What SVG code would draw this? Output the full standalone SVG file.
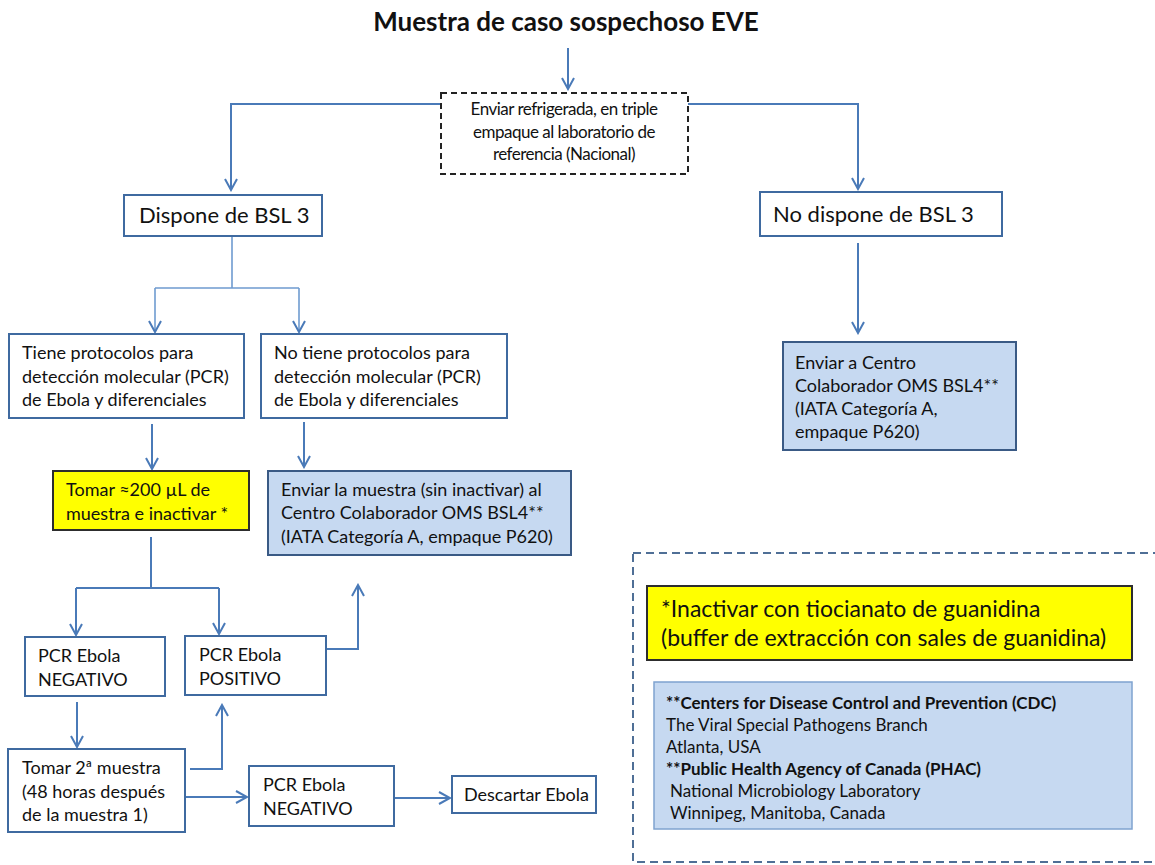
<svg xmlns="http://www.w3.org/2000/svg" width="1155" height="865" viewBox="0 0 1155 865">
<style>
text{font-family:Lato,"Liberation Sans",sans-serif;fill:#111}
.t{font-size:18px}
.box{fill:#fff;stroke:#3f6aa0;stroke-width:2}
.blue{fill:#c6d9f1;stroke:#3a5a85;stroke-width:2}
.yel{fill:#ffff00;stroke:#2d2d2d;stroke-width:2}
.ln{fill:none;stroke:#4a7ab8;stroke-width:2}
.lt{fill:none;stroke:#6f9bd0;stroke-width:1.6}
</style>
<defs>
<marker id="ah" viewBox="0 0 14 14" refX="12" refY="7" markerWidth="14" markerHeight="14" markerUnits="userSpaceOnUse" orient="auto">
<path d="M1,1 L12,7 L1,13" fill="none" stroke="#4a7ab8" stroke-width="2"/>
</marker>
</defs>
<text x="566" y="31" text-anchor="middle" font-size="26" font-weight="bold">Muestra de caso sospechoso EVE</text>
<g id="connectors">
<path class="ln" d="M568,48 V89" marker-end="url(#ah)"/>
<path class="ln" d="M441,104 H231 V190" marker-end="url(#ah)"/>
<path class="ln" d="M688,104 H858 V189" marker-end="url(#ah)"/>
<path class="lt" d="M232,237 V288 M155,288 H299"/>
<path class="lt" d="M155,288 V332" marker-end="url(#ah)"/>
<path class="lt" d="M299,288 V332" marker-end="url(#ah)"/>
<path class="ln" d="M152,424 V469" marker-end="url(#ah)"/>
<path class="ln" d="M304,422 V467" marker-end="url(#ah)"/>
<path class="ln" d="M151,537 V588 M76,588 H219"/>
<path class="ln" d="M76,588 V635" marker-end="url(#ah)"/>
<path class="ln" d="M219,588 V634" marker-end="url(#ah)"/>
<path class="ln" d="M326,649 H358 V585" marker-end="url(#ah)"/>
<path class="ln" d="M77,702 V747" marker-end="url(#ah)"/>
<path class="ln" d="M190,769 H222 V705" marker-end="url(#ah)"/>
<path class="ln" d="M185,797 H247" marker-end="url(#ah)"/>
<path class="ln" d="M394,798 H450" marker-end="url(#ah)"/>
<path class="ln" d="M858,243 V333" marker-end="url(#ah)"/>
</g>
<g id="envio">
<rect x="441" y="93" width="247" height="81" fill="#fff" stroke="#222" stroke-width="2" stroke-dasharray="6,4"/>
<text font-size="17" text-anchor="middle" letter-spacing="-0.5"><tspan x="564" y="115">Enviar refrigerada, en triple</tspan><tspan x="564" y="138">empaque al laboratorio de</tspan><tspan x="564" y="160">referencia (Nacional)</tspan></text>
</g>
<g id="dispone">
<rect class="box" x="124" y="195" width="198" height="41"/>
<text x="139" y="223" font-size="22">Dispone de BSL 3</text>
</g>
<g id="nodispone">
<rect class="box" x="760" y="192" width="242" height="44"/>
<text x="773" y="222" font-size="22">No dispone de BSL 3</text>
</g>
<g id="tiene">
<rect class="box" x="9" y="334" width="235" height="84"/>
<text class="t"><tspan x="22" y="359">Tiene protocolos para</tspan><tspan x="22" y="383">detección molecular (PCR)</tspan><tspan x="22" y="406">de Ebola y diferenciales</tspan></text>
</g>
<g id="notiene">
<rect class="box" x="261" y="334" width="246" height="84"/>
<text class="t"><tspan x="274" y="359">No tiene protocolos para</tspan><tspan x="274" y="383">detección molecular (PCR)</tspan><tspan x="274" y="406">de Ebola y diferenciales</tspan></text>
</g>
<g id="tomar">
<rect class="yel" x="53" y="471" width="196" height="59"/>
<text class="t"><tspan x="66" y="496">Tomar ≈200 µL de</tspan><tspan x="66" y="520">muestra e inactivar *</tspan></text>
</g>
<g id="enviarmuestra">
<rect class="blue" x="268" y="471" width="303" height="84"/>
<text class="t"><tspan x="281" y="496">Enviar la muestra (sin inactivar) al</tspan><tspan x="281" y="519">Centro Colaborador OMS  BSL4**</tspan><tspan x="281" y="543">(IATA Categoría A, empaque P620)</tspan></text>
</g>
<g id="enviarcentro">
<rect class="blue" x="783" y="342" width="233" height="108"/>
<text class="t"><tspan x="795" y="369">Enviar a Centro</tspan><tspan x="795" y="392">Colaborador OMS BSL4**</tspan><tspan x="795" y="415">(IATA Categoría A,</tspan><tspan x="795" y="438">empaque P620)</tspan></text>
</g>
<g id="neg1">
<rect class="box" x="25" y="637" width="140" height="59"/>
<text class="t"><tspan x="38" y="662">PCR Ebola</tspan><tspan x="38" y="686">NEGATIVO</tspan></text>
</g>
<g id="pos">
<rect class="box" x="185" y="636" width="141" height="59"/>
<text class="t"><tspan x="199" y="661">PCR Ebola</tspan><tspan x="199" y="685">POSITIVO</tspan></text>
</g>
<g id="tomar2">
<rect class="box" x="8" y="749" width="177" height="83"/>
<text class="t"><tspan x="22" y="774">Tomar 2ª muestra</tspan><tspan x="22" y="798">(48 horas después</tspan><tspan x="22" y="821">de la muestra 1)</tspan></text>
</g>
<g id="neg2">
<rect class="box" x="249" y="766" width="145" height="60"/>
<text class="t"><tspan x="263" y="791">PCR Ebola</tspan><tspan x="263" y="815">NEGATIVO</tspan></text>
</g>
<g id="descartar">
<rect class="box" x="452" y="776" width="144" height="37"/>
<text class="t" x="464" y="801">Descartar Ebola</text>
</g>
<g id="notas">
<rect x="633" y="553" width="560" height="309" fill="none" stroke="#4f6f96" stroke-width="2" stroke-dasharray="8,5"/>
<rect class="yel" x="647" y="586" width="485" height="74"/>
<text font-size="23"><tspan x="661" y="617">*Inactivar con tiocianato de guanidina</tspan><tspan x="661" y="646">(buffer de extracción con sales de guanidina)</tspan></text>
<rect x="654" y="682" width="478" height="147" fill="#c6d9f1" stroke="#7fa3cf" stroke-width="1.5"/>
<text font-size="17"><tspan x="666" y="709" font-weight="bold">**Centers for Disease Control and Prevention (CDC)</tspan><tspan x="666" y="731">The Viral Special Pathogens Branch</tspan><tspan x="666" y="753">Atlanta, USA</tspan><tspan x="666" y="775" font-weight="bold">**Public Health Agency of Canada (PHAC)</tspan><tspan x="670" y="797">National Microbiology Laboratory</tspan><tspan x="670" y="819">Winnipeg, Manitoba, Canada</tspan></text>
</g>
</svg>
